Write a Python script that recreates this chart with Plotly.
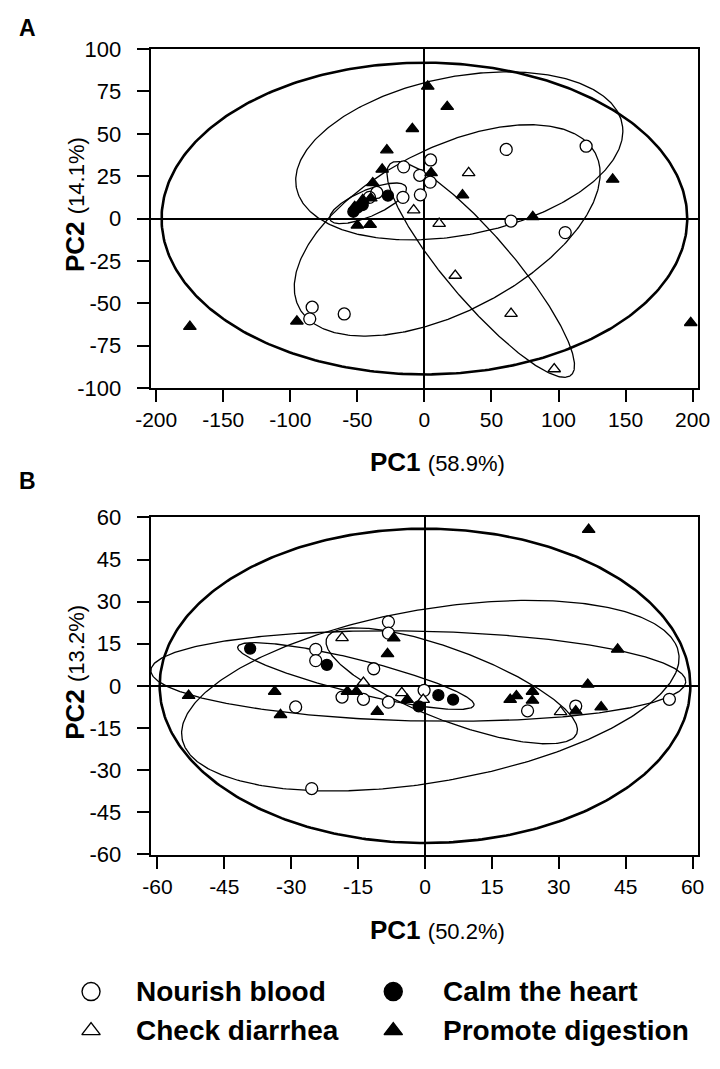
import numpy as np
import plotly.graph_objects as go

W, H = 720, 1069
FONT = "Liberation Sans, Arial, sans-serif"

# ---------------- Panel A data ----------------
nourish_A_x = [4.6, -15.5, -3.5, 4.3, -3.0, -16.0, -35.5, -41.0, 61.0, 120.6, 64.6, 105.0, -83.7, -85.5, -59.8]
nourish_A_y = [34.6, 30.5, 25.5, 21.5, 14.0, 12.5, 15.4, 12.5, 40.8, 42.7, -1.5, -8.3, -52.3, -59.2, -56.3]
calm_A_x = [-53.0, -50.0, -46.0, -27.2]
calm_A_y = [4.0, 6.5, 8.0, 13.5]
check_A_x = [33.0, -8.0, 11.0, 23.0, 64.6, 96.8]
check_A_y = [27.0, 5.0, -3.0, -33.6, -56.1, -88.8]
promote_A_x = [2.5, 17.0, -9.0, -28.0, -31.5, -38.5, 5.0, 28.4, -50.0, -40.5, 140.4, 80.8, -174.9, -95.1, 198.6, -46.0, -40.0, -52.0]
promote_A_y = [78.0, 66.0, 53.0, 40.4, 29.0, 21.0, 27.0, 13.8, -4.0, -3.5, 23.1, 1.0, -63.8, -60.6, -61.5, 11.0, 12.0, 7.0]

# ellipses A: all, promote, nourish, check, calm
ell_A_cx = [0, 26, 17, 42, -42]
ell_A_cy = [0, 37, -7, -30, 9]
ell_A_a = [196, 123, 120, 92, 30]
ell_A_b = [92, 47, 50, 22, 8]
ell_A_th = [0, 8, 20, -42, 18]
ell_A_w = [2.6, 1.3, 1.3, 1.3, 1.3]

# ---------------- Panel B data ----------------
nourish_B_x = [-8.2, -8.2, -24.5, -24.5, -11.5, -29.0, -18.6, -13.8, -8.2, -0.2, 23.0, 33.8, 54.8, -25.4]
nourish_B_y = [22.8, 18.8, 13.0, 9.0, 6.1, -7.5, -4.0, -4.8, -5.8, -1.6, -8.9, -7.2, -4.8, -36.6]
calm_B_x = [-39.2, -22.0, 3.0, 6.3, -1.4]
calm_B_y = [13.3, 7.5, -3.3, -4.9, -7.3]
check_B_x = [-18.6, -13.8, -5.2, -0.4, 30.4]
check_B_y = [17.1, 1.2, -2.5, -4.9, -9.3]
promote_B_x = [36.7, 43.2, 36.5, 39.5, 33.8, 24.1, 24.1, 20.5, 19.1, -53.0, -33.7, -32.4, -17.4, -15.4, -10.7, -8.4, -7.0, -4.0]
promote_B_y = [55.7, 13.0, 0.5, -7.6, -9.0, -2.0, -5.2, -3.6, -4.9, -3.5, -2.0, -10.3, -2.0, -2.0, -9.2, 11.4, 17.0, -4.9]

# ellipses B: all, promote, nourish, calm, check
ell_B_cx = [0, -1.5, 1.2, -15.5, 6]
ell_B_cy = [0, 3.5, -3.5, 3.5, 0]
ell_B_a = [59.5, 60, 58, 28.5, 33]
ell_B_b = [56, 16, 30, 5.7, 11.5]
ell_B_th = [0, -2, 18.7, -22, -33.7]
ell_B_w = [2.6, 1.3, 1.3, 1.3, 1.3]

# tick values / labels
A_xticks = list(range(-200, 201, 50))
A_yticks = list(range(-100, 101, 25))
B_xticks = list(range(-60, 61, 15))
B_yticks = list(range(-60, 61, 15))

legend_names = ["Nourish blood", "Calm the heart", "Check diarrhea", "Promote digestion"]

fig = go.Figure()


def ellipse(cx, cy, a, b, th):
    t = np.linspace(0, 2 * np.pi, 400)
    r = np.deg2rad(th)
    x = cx + a * np.cos(t) * np.cos(r) - b * np.sin(t) * np.sin(r)
    y = cy + a * np.cos(t) * np.sin(r) + b * np.sin(t) * np.cos(r)
    return x, y


def add_ellipses(cxs, cys, As, Bs, ths, ws, xa, ya):
    for cx, cy, a, b, th, w in zip(cxs, cys, As, Bs, ths, ws):
        x, y = ellipse(cx, cy, a, b, th)
        fig.add_trace(go.Scatter(x=x, y=y, mode="lines", line=dict(color="black", width=w),
                                 xaxis=xa, yaxis=ya, hoverinfo="skip", showlegend=False))


def add_points(x, y, sym, fill, size, xa, ya):
    fig.add_trace(go.Scatter(x=x, y=y, mode="markers", xaxis=xa, yaxis=ya, showlegend=False,
                             marker=dict(symbol=sym, size=size, color=fill,
                                         line=dict(color="black", width=1.3))))


add_ellipses(ell_A_cx, ell_A_cy, ell_A_a, ell_A_b, ell_A_th, ell_A_w, "x", "y")
add_points(nourish_A_x, nourish_A_y, "circle", "white", 12, "x", "y")
add_points(check_A_x, check_A_y, "triangle-up", "white", 11, "x", "y")
add_points(promote_A_x, promote_A_y, "triangle-up", "black", 11, "x", "y")
add_points(calm_A_x, calm_A_y, "circle", "black", 11, "x", "y")

add_ellipses(ell_B_cx, ell_B_cy, ell_B_a, ell_B_b, ell_B_th, ell_B_w, "x2", "y2")
add_points(nourish_B_x, nourish_B_y, "circle", "white", 12, "x2", "y2")
add_points(check_B_x, check_B_y, "triangle-up", "white", 11, "x2", "y2")
add_points(promote_B_x, promote_B_y, "triangle-up", "black", 11, "x2", "y2")
add_points(calm_B_x, calm_B_y, "circle", "black", 11, "x2", "y2")

# legend symbols on an auxiliary pixel axis
leg_x = [79, 393, 79, 393]
leg_y = [1003, 1003, 1043, 1043]
leg_sym = ["circle", "circle", "triangle-up", "triangle-up"]
leg_fill = ["white", "black", "white", "black"]
leg_size = [18, 18, 16, 16]
for lx, ly, s, f, sz in zip(leg_x, leg_y, leg_sym, leg_fill, leg_size):
    fig.add_trace(go.Scatter(x=[lx], y=[ly], mode="markers", xaxis="x3", yaxis="y3", showlegend=False,
                             marker=dict(symbol=s, size=sz, color=f, line=dict(color="black", width=1.4))))


def pxx(p):
    return p / W


def pxy(p):
    return 1 - p / H


boxL, boxR = 141, 710
A_top, A_bot = 38, 385
B_top, B_bot = 517, 863

axis_common = dict(showline=True, linecolor="black", linewidth=2, mirror=True,
                   ticks="outside", ticklen=12, tickwidth=2, tickcolor="black",
                   showgrid=False, zeroline=True, zerolinecolor="black", zerolinewidth=2)
xtick_font = dict(family=FONT, size=21, color="black")
ytick_font = dict(family=FONT, size=22, color="black")

fig.update_layout(
    width=W, height=H, margin=dict(l=0, r=0, t=0, b=0),
    paper_bgcolor="white", plot_bgcolor="white", showlegend=False,
    xaxis=dict(domain=[pxx(boxL), pxx(boxR)], range=[-204.1, 204.3], tickvals=A_xticks,
               ticktext=[str(v) for v in A_xticks], anchor="y", tickfont=xtick_font, **axis_common),
    yaxis=dict(domain=[pxy(A_bot), pxy(A_top)], range=[-100, 100], tickvals=A_yticks,
               ticktext=[str(v) for v in A_yticks], anchor="x", ticklabelstandoff=11,
               tickfont=ytick_font, **axis_common),
    xaxis2=dict(domain=[pxx(boxL), pxx(boxR)], range=[-61.5, 61.3], tickvals=B_xticks,
                ticktext=[str(v) for v in B_xticks], anchor="y2", tickfont=xtick_font, **axis_common),
    yaxis2=dict(domain=[pxy(B_bot), pxy(B_top)], range=[-60.2, 60.2], tickvals=B_yticks,
                ticktext=[str(v) for v in B_yticks], anchor="x2", ticklabelstandoff=11,
                tickfont=ytick_font, **axis_common),
    xaxis3=dict(domain=[0, 1], range=[0, W], visible=False, anchor="y3"),
    yaxis3=dict(domain=[0, pxy(950)], range=[H, 950], visible=False, anchor="x3"),
)

ann = []
ann.append(dict(text="<b>A</b>", x=pxx(13), y=pxy(16), xref="paper", yref="paper",
                showarrow=False, xanchor="center", yanchor="middle",
                font=dict(family=FONT, size=23, color="black")))
ann.append(dict(text="<b>B</b>", x=pxx(13), y=pxy(480), xref="paper", yref="paper",
                showarrow=False, xanchor="center", yanchor="middle",
                font=dict(family=FONT, size=23, color="black")))


def xtitle(pc, pct, y):
    return dict(text=f"<b>{pc}</b> <span style='font-size:22px'>{pct}</span>",
                x=pxx(439), y=pxy(y), xref="paper", yref="paper", showarrow=False,
                xanchor="center", yanchor="middle", font=dict(family=FONT, size=26, color="black"))


def ytitle(pc, pct, y):
    return dict(text=f"<b>{pc}</b> <span style='font-size:22px'>{pct}</span>",
                x=pxx(63), y=pxy(y), xref="paper", yref="paper", showarrow=False, textangle=-90,
                xanchor="center", yanchor="middle", font=dict(family=FONT, size=26, color="black"))


ann.append(xtitle("PC1", "(58.9%)", 461))
ann.append(ytitle("PC2", "(14.1%)", 197))
ann.append(xtitle("PC1", "(50.2%)", 940))
ann.append(ytitle("PC2", "(13.2%)", 676))

leg_tx = [124, 443, 124, 443]
for tx, ty, name in zip(leg_tx, leg_y, legend_names):
    ann.append(dict(text=f"<b>{name}</b>", x=tx, y=ty, xref="x3", yref="y3", showarrow=False,
                    xanchor="left", yanchor="middle", font=dict(family=FONT, size=28, color="black")))

fig.update_layout(annotations=ann)
fig.write_html("out.html", config={"displayModeBar": False},
               post_script="document.body.style.margin='0px';")
